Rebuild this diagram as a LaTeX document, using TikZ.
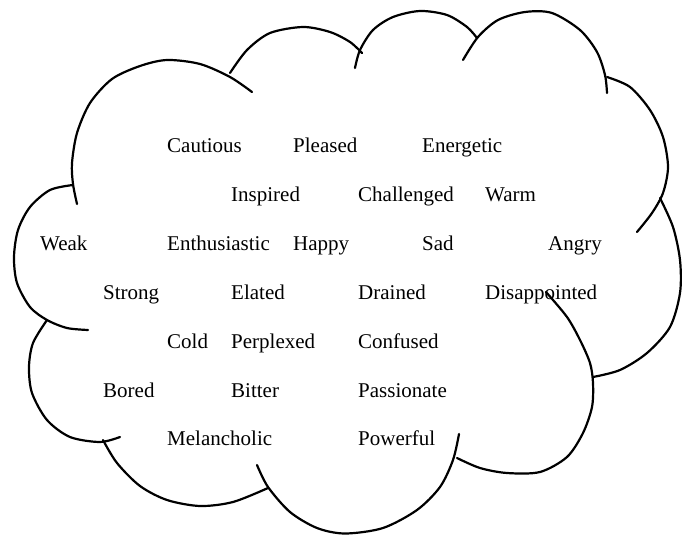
\documentclass[tikz,border=0pt]{standalone}
\usepackage{fontspec}
\setmainfont{Liberation Serif}
\usepackage{tikz}

\tikzset{word/.style={anchor=base west, inner sep=0pt, font=\fontsize{21}{25}\selectfont}}
\tikzset{puff/.style={line width=2.2pt, line cap=round}}

\begin{document}
\begin{tikzpicture}[x=1pt,y=-1pt]
\useasboundingbox (0,0) rectangle (691,535);

\node[word] (cautious) at (167,152.5) {Cautious};
\node[word] (pleased) at (293,152.5) {Pleased};
\node[word] (energetic) at (422,152.5) {Energetic};
\node[word] (inspired) at (231,201.4) {Inspired};
\node[word] (challenged) at (358,201.4) {Challenged};
\node[word] (warm) at (485,201.4) {Warm};
\node[word] (weak) at (40,250.3) {Weak};
\node[word] (enthusiastic) at (167,250.3) {Enthusiastic};
\node[word] (happy) at (293,250.3) {Happy};
\node[word] (sad) at (422,250.3) {Sad};
\node[word] (angry) at (548,250.3) {Angry};
\node[word] (strong) at (103,299.2) {Strong};
\node[word] (elated) at (231,299.2) {Elated};
\node[word] (drained) at (358,299.2) {Drained};
\node[word] (disappointed) at (485,299.2) {Disappointed};
\node[word] (cold) at (167,348.1) {Cold};
\node[word] (perplexed) at (231,348.1) {Perplexed};
\node[word] (confused) at (358,348.1) {Confused};
\node[word] (bored) at (103,397) {Bored};
\node[word] (bitter) at (231,397) {Bitter};
\node[word] (passionate) at (358,397) {Passionate};
\node[word] (melancholic) at (167,445.9) {Melancholic};
\node[word] (powerful) at (358,445.9) {Powerful};

% cloud outline, one stroke per puff
\draw[puff] plot[smooth] coordinates {(77,204) (73,184) (72,163) (77,133) (90,103) (112,79) (140,66) (167,60) (200,64) (230,77) (252,92)};
\draw[puff] plot[smooth] coordinates {(230,73) (247,50) (270,33) (303,27) (330,32) (350,42) (362,53)};
\draw[puff] plot[smooth] coordinates {(355,68) (360,50) (373,30) (393,17) (420,11) (447,15) (467,27) (477,38)};
\draw[puff] plot[smooth] coordinates {(463,60) (478,37) (498,20) (525,12) (552,13) (580,30) (597,52) (605,75) (607,93)};
\draw[puff] plot[smooth] coordinates {(607,77) (630,87) (650,110) (663,137) (668,167) (663,193) (652,213) (637,232)};
\draw[puff] plot[smooth] coordinates {(660,198) (673,227) (680,260) (680,293) (670,327) (647,353) (620,370) (593,377)};
\draw[puff] plot[smooth] coordinates {(457,458) (480,468) (507,473) (540,472) (567,457) (583,433) (592,407) (593,383) (590,363) (580,340) (567,317) (546,292)};
\draw[puff] plot[smooth] coordinates {(257,465) (268,487) (290,512) (317,528) (345,533.5) (383,528) (417,510) (440,487) (453,460) (459,434)};
\draw[puff] plot[smooth] coordinates {(103,440) (117,463) (140,486) (167,500) (200,506) (233,502) (268,488)};
\draw[puff] plot[smooth] coordinates {(47,320) (33,343) (29,367) (32,393) (47,420) (70,437) (100,442) (120,437)};
\draw[puff] plot[smooth] coordinates {(73,185) (50,190) (30,207) (18,230) (14,257) (17,283) (30,307) (47,320) (67,328) (88,330)};
\end{tikzpicture}
\end{document}
